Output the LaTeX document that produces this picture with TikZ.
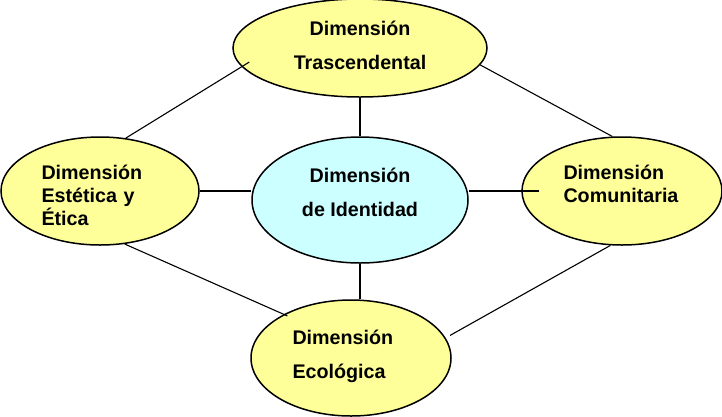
\documentclass[tikz,border=0pt]{standalone}
\usepackage{fontspec}
\setmainfont{Liberation Sans}
\usetikzlibrary{shapes.geometric}
\definecolor{paleyellow}{RGB}{255,255,153}
\definecolor{palecyan}{RGB}{204,255,255}
\tikzset{
  dimbox/.style={ellipse, draw, line width=1.5pt, fill=paleyellow, inner sep=0pt, align=center},
  dimbox2/.style={dimbox, fill=palecyan},
  leftbox/.style={dimbox, text width=117pt, align=left},
  tightfont/.style={font=\bfseries\fontsize{19.7}{23}\selectfont},
  link/.style={line width=1.1pt}
}
\begin{document}
\begin{tikzpicture}[x=1pt, y=-1pt, every node/.style={font=\bfseries\fontsize{19.7}{34}\selectfont}]
  \clip (0,0) rectangle (722,416);
  \node[dimbox, minimum width=254pt, minimum height=98pt, text depth=6pt] (tras) at (360,48) {Dimensión\\Trascendental};
  \node[dimbox2, minimum width=216pt, minimum height=126pt, text depth=16pt] (ident) at (360,200) {Dimensión\\de Identidad};
  \node[leftbox, tightfont, minimum width=198pt, minimum height=108pt, text depth=38pt] (estet) at (100,191) {Dimensión\\Estética y\\Ética};
  \node[leftbox, tightfont, minimum width=200pt, minimum height=108pt, text depth=38pt] (comun) at (622,191) {Dimensión\\Comunitaria};
  \node[leftbox, minimum width=200pt, minimum height=116pt, text depth=42pt] (ecol) at (351,358) {Dimensión\\Ecológica};
  \draw[link, shorten <=-9pt] (tras.189) -- (estet.64);
  \draw[link] (tras.352) -- (comun.100);
  \draw[link] (tras.south) -- (ident.north);
  \draw[link] (estet.east) -- (estet.east -| ident.west);
  \draw[link, shorten <=-18pt] (comun.west) -- (comun.west -| ident.east);
  \draw[link] (ident.south) -- (ident.south |- ecol.north);
  \draw[link, shorten >=-4pt] (estet.295) -- (ecol.147);
  \draw[link, shorten >=5pt] (comun.258) -- (ecol.12);
\end{tikzpicture}
\end{document}
